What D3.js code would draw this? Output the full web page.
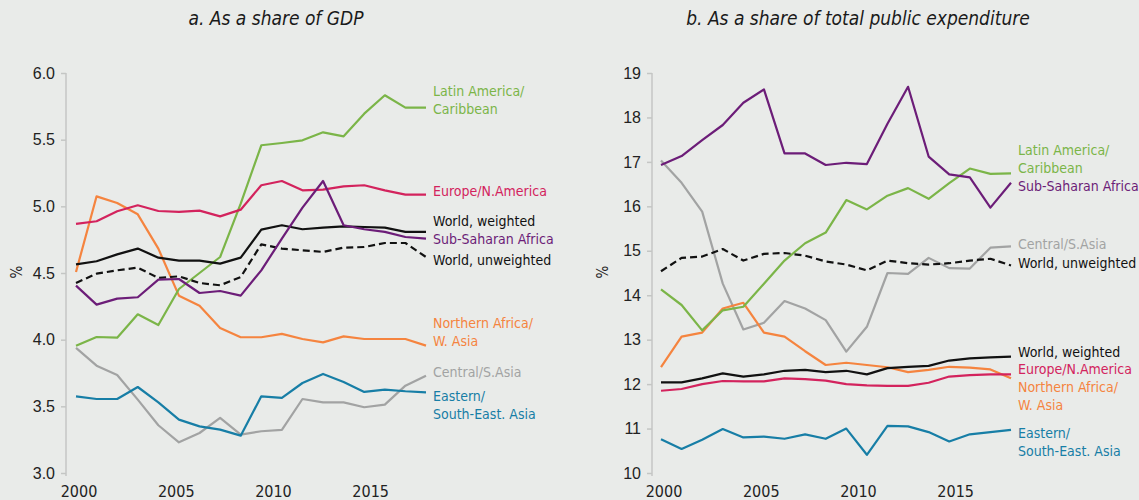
<!DOCTYPE html>
<html>
<head>
<meta charset="utf-8">
<script src="https://cdn.jsdelivr.net/npm/d3@7"></script>
<style>
  body { margin: 0; background: #e9ebe9; }
  svg { display: block; font-family: "Liberation Sans Narrow", "DejaVu Sans Condensed", "Roboto", sans-serif; }
</style>
</head>
<body>
<svg id="chart"></svg>
<script>
var years = d3.range(2000, 2018);

// a. as a share of GDP
var gdpLatin     = [3.955, 4.02, 4.015, 4.19, 4.11, 4.38, 4.5, 4.62, 5.02, 5.458, 5.475, 5.495, 5.555, 5.525, 5.695, 5.833, 5.74, 5.74];
var gdpEurope    = [4.868, 4.888, 4.963, 5.008, 4.965, 4.958, 4.968, 4.925, 4.975, 5.158, 5.19, 5.12, 5.125, 5.15, 5.158, 5.12, 5.088, 5.088];
var gdpWorldW    = [4.565, 4.588, 4.64, 4.683, 4.615, 4.593, 4.593, 4.57, 4.615, 4.825, 4.858, 4.828, 4.84, 4.85, 4.845, 4.84, 4.808, 4.808];
var gdpSSA       = [4.405, 4.263, 4.308, 4.318, 4.45, 4.455, 4.35, 4.365, 4.33, 4.52, 4.758, 4.99, 5.19, 4.858, 4.828, 4.808, 4.77, 4.758];
var gdpWorldU    = [4.425, 4.495, 4.52, 4.54, 4.463, 4.475, 4.425, 4.408, 4.47, 4.715, 4.683, 4.67, 4.658, 4.69, 4.695, 4.725, 4.725, 4.62];
var gdpNAfrica   = [4.508, 5.075, 5.025, 4.94, 4.683, 4.33, 4.255, 4.088, 4.018, 4.018, 4.043, 4.005, 3.98, 4.025, 4.005, 4.005, 4.005, 3.955];
var gdpCentral   = [3.938, 3.805, 3.735, 3.55, 3.358, 3.23, 3.3, 3.413, 3.288, 3.313, 3.323, 3.555, 3.53, 3.53, 3.493, 3.513, 3.655, 3.73];
var gdpEastern   = [3.575, 3.555, 3.555, 3.645, 3.53, 3.4, 3.35, 3.325, 3.28, 3.575, 3.563, 3.675, 3.743, 3.683, 3.608, 3.625, 3.613, 3.605];
var gdpTicks     = [3.0, 3.5, 4.0, 4.5, 5.0, 5.5, 6.0];

// b. as a share of total public expenditure
var expLatin     = [14.13, 13.78, 13.21, 13.66, 13.74, 14.26, 14.78, 15.17, 15.41, 16.14, 15.93, 16.24, 16.41, 16.17, 16.52, 16.85, 16.73, 16.74];
var expSSA       = [16.93, 17.13, 17.49, 17.83, 18.33, 18.63, 17.19, 17.19, 16.93, 16.98, 16.95, 17.86, 18.69, 17.12, 16.72, 16.65, 15.97, 16.53];
var expCentral   = [17.03, 16.53, 15.88, 14.26, 13.23, 13.38, 13.87, 13.70, 13.44, 12.73, 13.29, 14.50, 14.48, 14.84, 14.61, 14.60, 15.07, 15.10];
var expWorldU    = [14.54, 14.84, 14.87, 15.04, 14.78, 14.93, 14.95, 14.89, 14.76, 14.69, 14.56, 14.78, 14.72, 14.69, 14.72, 14.78, 14.82, 14.67];
var expWorldW    = [12.04, 12.04, 12.13, 12.24, 12.17, 12.22, 12.30, 12.32, 12.27, 12.30, 12.22, 12.36, 12.39, 12.41, 12.53, 12.58, 12.60, 12.62];
var expEurope    = [11.85, 11.89, 12.0, 12.07, 12.06, 12.06, 12.13, 12.11, 12.08, 12.0, 11.97, 11.96, 11.96, 12.03, 12.17, 12.20, 12.22, 12.22];
var expNAfrica   = [12.38, 13.07, 13.16, 13.70, 13.83, 13.16, 13.07, 12.74, 12.43, 12.48, 12.43, 12.38, 12.27, 12.32, 12.39, 12.37, 12.33, 12.13];
var expEastern   = [10.76, 10.54, 10.75, 10.99, 10.80, 10.82, 10.77, 10.87, 10.77, 11.0, 10.41, 11.06, 11.05, 10.92, 10.71, 10.87, 10.92, 10.97];
var expTicks     = [10, 11, 12, 13, 14, 15, 16, 17, 18, 19];

var yearTicks = [2000, 2005, 2010, 2015];

var colors = {
  latin: '#7bb548', europe: '#d3235d', worldW: '#111111', ssa: '#6c1d78',
  worldU: '#111111', nafrica: '#f5843f', central: '#a2a3a3', eastern: '#177ea6'
};

var W = 1139, H = 500;
var svg = d3.select('#chart').attr('width', W).attr('height', H);

svg.append('rect').attr('width', W).attr('height', H).attr('fill', '#e9ebe9');

function panel(opt) {
  var g = svg.append('g');

  var x = d3.scaleLinear().domain([2000, 2017]).range([opt.x0, opt.x0 + 350]);
  // axis labels sit on a slightly different spacing than the data points
  var xTick = d3.scaleLinear().domain([2000, 2018]).range([opt.x0 + 3, opt.x0 + 3 + 350]);
  var y = d3.scaleLinear().domain(opt.yDomain).range([473, 73]);

  g.append('text')
    .attr('x', opt.titleX).attr('y', 25)
    .attr('text-anchor', 'middle')
    .style('font-style', 'italic')
    .style('font-size', '19px')
    .attr('fill', '#1a1a1a')
    .text(opt.title);

  var yAxis = g.append('g')
    .attr('transform', 'translate(' + opt.axisX + ',0)')
    .call(d3.axisLeft(y).tickValues(opt.ticks).tickFormat(opt.fmt).tickSize(5).tickPadding(6));
  yAxis.select('.domain').attr('stroke', '#c4c6c4').attr('stroke-width', 1.5)
    .attr('d', 'M0,' + y(opt.yDomain[1]) + 'V' + (y(opt.yDomain[0]) + 3));
  yAxis.selectAll('.tick line').attr('stroke', '#c4c6c4').attr('stroke-width', 1.5);
  yAxis.selectAll('.tick text').attr('fill', '#222').style('font-size', '16px');

  g.append('text')
    .attr('transform', 'translate(' + (opt.axisX - 44) + ',272) rotate(-90)')
    .attr('text-anchor', 'middle')
    .style('font-size', '15px')
    .attr('fill', '#222')
    .text('%');

  g.append('g').selectAll('text')
    .data(yearTicks)
    .enter()
    .append('text')
    .attr('x', function(d) { return xTick(d); })
    .attr('y', 497)
    .attr('text-anchor', 'middle')
    .style('font-size', '16px')
    .attr('fill', '#222')
    .text(function(d) { return d; });

  var line = d3.line()
    .x(function(d, i) { return x(years[i]); })
    .y(function(d) { return y(d); });

  g.append('g').selectAll('path')
    .data(opt.series)
    .enter()
    .append('path')
    .attr('d', function(d) { return line(d.values); })
    .attr('fill', 'none')
    .attr('stroke', function(d) { return colors[d.key]; })
    .attr('stroke-width', 2.2)
    .attr('stroke-linejoin', 'round')
    .attr('stroke-dasharray', function(d) { return d.dashed ? '7,4' : null; });

  g.append('g').selectAll('text')
    .data(opt.labels)
    .enter()
    .append('text')
    .attr('x', opt.labelX)
    .attr('y', function(d) { return y(d.at) + (d.line || 0) * 18; })
    .style('font-size', '14px')
    .attr('fill', function(d) { return colors[d.key]; })
    .text(function(d) { return d.text; });
}

panel({
  title: 'a. As a share of GDP', titleX: 276,
  x0: 76, axisX: 66, labelX: 433,
  yDomain: [3, 6], ticks: gdpTicks, fmt: d3.format('.1f'),
  series: [
    { key: 'central', values: gdpCentral },
    { key: 'eastern', values: gdpEastern },
    { key: 'nafrica', values: gdpNAfrica },
    { key: 'latin', values: gdpLatin },
    { key: 'worldU', values: gdpWorldU, dashed: true },
    { key: 'worldW', values: gdpWorldW },
    { key: 'europe', values: gdpEurope },
    { key: 'ssa', values: gdpSSA }
  ],
  labels: [
    { key: 'latin', text: 'Latin America/', at: 5.83 },
    { key: 'latin', text: 'Caribbean', at: 5.83, line: 1 },
    { key: 'europe', text: 'Europe/N.America', at: 5.075 },
    { key: 'worldW', text: 'World, weighted', at: 4.85 },
    { key: 'ssa', text: 'Sub-Saharan Africa', at: 4.715 },
    { key: 'worldU', text: 'World, unweighted', at: 4.56 },
    { key: 'nafrica', text: 'Northern Africa/', at: 4.09 },
    { key: 'nafrica', text: 'W. Asia', at: 4.09, line: 1 },
    { key: 'central', text: 'Central/S.Asia', at: 3.72 },
    { key: 'eastern', text: 'Eastern/', at: 3.54 },
    { key: 'eastern', text: 'South-East. Asia', at: 3.54, line: 1 }
  ]
});

panel({
  title: 'b. As a share of total public expenditure', titleX: 858,
  x0: 661, axisX: 652, labelX: 1018,
  yDomain: [10, 19], ticks: expTicks, fmt: d3.format('d'),
  series: [
    { key: 'central', values: expCentral },
    { key: 'eastern', values: expEastern },
    { key: 'nafrica', values: expNAfrica },
    { key: 'latin', values: expLatin },
    { key: 'worldU', values: expWorldU, dashed: true },
    { key: 'europe', values: expEurope },
    { key: 'worldW', values: expWorldW },
    { key: 'ssa', values: expSSA }
  ],
  labels: [
    { key: 'latin', text: 'Latin America/', at: 17.155 },
    { key: 'latin', text: 'Caribbean', at: 17.155, line: 1 },
    { key: 'ssa', text: 'Sub-Saharan Africa', at: 16.345 },
    { key: 'central', text: 'Central/S.Asia', at: 15.04 },
    { key: 'worldU', text: 'World, unweighted', at: 14.61 },
    { key: 'worldW', text: 'World, weighted', at: 12.61 },
    { key: 'europe', text: 'Europe/N.America', at: 12.23 },
    { key: 'nafrica', text: 'Northern Africa/', at: 11.82 },
    { key: 'nafrica', text: 'W. Asia', at: 11.82, line: 1 },
    { key: 'eastern', text: 'Eastern/', at: 10.79 },
    { key: 'eastern', text: 'South-East. Asia', at: 10.79, line: 1 }
  ]
});
</script>
</body>
</html>
